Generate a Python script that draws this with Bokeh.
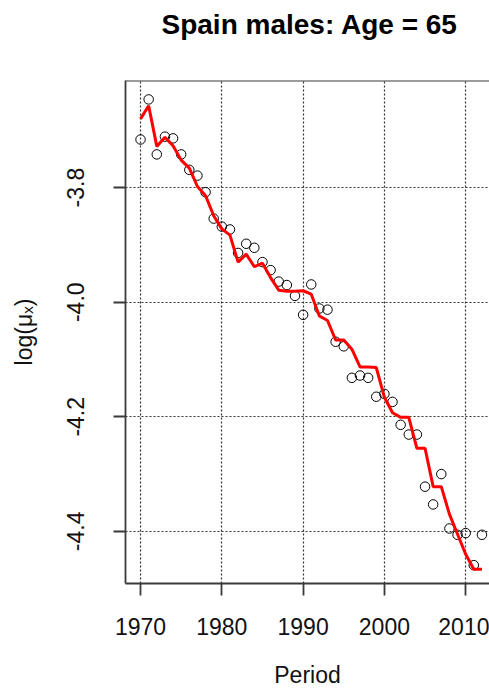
from bokeh.plotting import figure
from bokeh.models import Span, FixedTicker, PrintfTickFormatter, Title
from bokeh.embed import file_html
from bokeh.resources import INLINE

years = list(range(1970, 2013))
observed = [-3.716, -3.646, -3.742, -3.711, -3.714, -3.742, -3.769, -3.779, -3.808, -3.854,
            -3.868, -3.873, -3.914, -3.898, -3.905, -3.930, -3.944, -3.964, -3.970, -3.989,
            -4.022, -3.969, -4.011, -4.013, -4.069, -4.077, -4.132, -4.128, -4.132, -4.165,
            -4.160, -4.174, -4.214, -4.231, -4.231, -4.322, -4.353, -4.300, -4.395, -4.406,
            -4.403, -4.459, -4.406]
fitted = [-3.680, -3.657, -3.728, -3.712, -3.727, -3.752, -3.766, -3.798, -3.814, -3.849,
          -3.872, -3.883, -3.930, -3.916, -3.938, -3.932, -3.957, -3.979, -3.981, -3.981,
          -3.980, -3.986, -4.024, -4.032, -4.066, -4.066, -4.082, -4.113, -4.113, -4.114,
          -4.166, -4.193, -4.201, -4.201, -4.255, -4.255, -4.322, -4.322, -4.370, -4.405,
          -4.440, -4.466, -4.466]
x_ticks = [1970, 1980, 1990, 2000, 2010]
y_ticks = [-3.8, -4.0, -4.2, -4.4]
title_text = "Spain males: Age = 65"
x_label = "Period"
y_label = "log(\u03bc\u2093)"

FONT = "Liberation Sans"
AX = "#3a3a3a"
X_START, X_END = 1968.15, 2012.93
Y_START, Y_END = -4.491, -3.613

main_title = Title(text=title_text, text_font=FONT, text_font_size="28px",
                   text_font_style="bold", text_color="black", align="left",
                   offset=36, standoff=10)
p = figure(width=489, height=691, x_range=(X_START, X_END), y_range=(Y_START, Y_END),
           output_backend="svg", toolbar_location=None,
           min_border_left=125, min_border_right=0, min_border_top=80, min_border_bottom=108,
           title=main_title)
p.outline_line_color = None
p.background_fill_color = "white"
p.border_fill_color = "white"

# blank spacer panel between the title and the box
p.add_layout(Title(text=" ", text_font=FONT, text_font_size="20px", standoff=12), "above")

# grid
p.xgrid.ticker = FixedTicker(ticks=x_ticks)
p.ygrid.ticker = FixedTicker(ticks=y_ticks)
for g in (p.xgrid, p.ygrid):
    g.grid_line_color = "#333333"
    g.grid_line_dash = "2 2"
    g.grid_line_width = 1.2

# axes
p.xaxis.ticker = FixedTicker(ticks=x_ticks)
p.yaxis.ticker = FixedTicker(ticks=y_ticks)
p.yaxis.formatter = PrintfTickFormatter(format="%.1f")
for ax in (p.xaxis, p.yaxis):
    ax.axis_line_color = AX
    ax.axis_line_width = 1.8
    ax.major_tick_line_color = AX
    ax.major_tick_line_width = 1.8
    ax.major_tick_out = 12
    ax.major_tick_in = 0
    ax.minor_tick_line_color = None
    ax.major_label_text_font = FONT
    ax.major_label_text_font_size = "23px"
    ax.major_label_text_color = "#111111"
    ax.axis_label_text_font = FONT
    ax.axis_label_text_font_size = "23px"
    ax.axis_label_text_font_style = "normal"
    ax.axis_label_text_color = "#111111"
p.xaxis.axis_label = x_label
p.yaxis.axis_label = y_label
p.xaxis.major_label_standoff = 22
p.xaxis.axis_label_standoff = 24
p.yaxis.major_label_orientation = "vertical"
p.yaxis.major_label_standoff = 29
p.yaxis.axis_label_standoff = 28

# top border of the box
p.add_layout(Span(location=Y_END, dimension="width", line_color=AX, line_width=1.8))

p.scatter(years, observed, marker="circle", size=9.5, fill_color=None,
          line_color="black", line_width=1)
p.line(years, fitted, line_color="#ff0000", line_width=3)

open("out.html", "w").write(file_html(p, INLINE))
